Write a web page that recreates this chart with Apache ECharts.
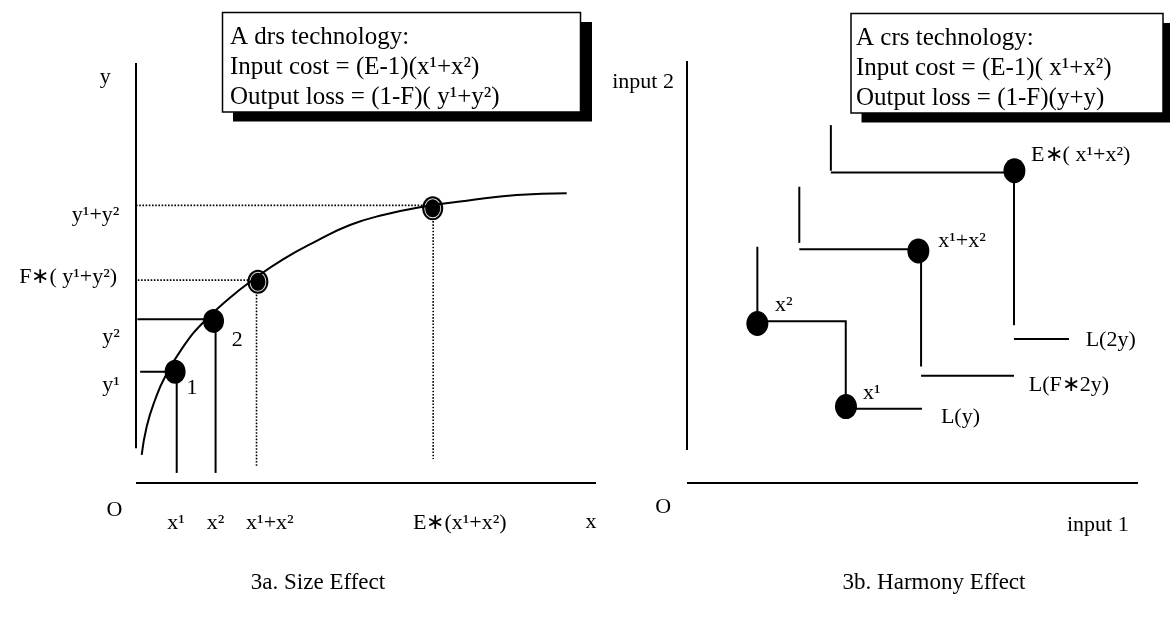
<!DOCTYPE html>
<html><head><meta charset="utf-8">
<script src="https://cdn.jsdelivr.net/npm/echarts@6/dist/echarts.min.js"></script>
<style>html,body{margin:0;padding:0;background:#fff}#c{width:1170px;height:617px}</style>
</head><body><div id="c"></div>
<script>
// ---------- Panel 3a (size effect), data units 0..100 ----------
const curvePts = [[1.24,6.67],[2.33,13.45],[4.13,19.76],[6.30,25.24],[10.43,32.71],[14.78,38.43],[20.43,44.12],[25.50,48.45],[31.96,53.26],[39.28,57.67],[46.52,61.43],[53.70,63.81],[62.39,65.79],[71.89,67.21],[82.76,68.57],[93.63,68.98]];
const leftAxes = [[[0,8.3],[0,100]], [[0,0],[100,0]]];
const leftSolid = [[[0.9,26.5],[8.5,26.5]], [[0.3,39.0],[16.9,39.0]], [[8.85,26.5],[8.85,2.4]], [[17.3,38.6],[17.3,2.4]]];
const leftDotted = [[[0.4,48.3],[26.5,48.3]], [[0,66.1],[64.5,66.1]], [[26.2,47.9],[26.2,3.8]], [[64.6,65.4],[64.6,5.7]]];
const leftDots = [[8.5,26.5],[16.85,38.6]];
const leftRingDots = [[26.5,47.9],[64.5,65.4]];
const leftLabelText = ['y','y¹+y²','F∗( y¹+y²)','y²','y¹','1','2','O','x¹','x²','x¹+x²','E∗(x¹+x²)','x'];
const leftLabelAt = [[-6.7,96.7],[-3.6,63.8],[-4.1,49.0],[-3.5,34.8],[-3.5,23.3],[12.2,22.6],[22.0,34.0],[-4.7,-6.4],[8.7,-9.5],[17.3,-9.5],[29.1,-9.5],[70.4,-9.5],[98.9,-9.3]];
const leftLabelAlign = ['center','right','right','right','right','center','center','center','center','center','center','center','center'];

// ---------- Panel 3b (harmony effect), data units 0..100 ----------
const rightAxes = [[[0,7.8],[0,100]], [[0,0],[100,0]]];
const isoY = [[[15.6,56.0],[15.6,38.3],[35.2,38.3],[35.2,17.6],[52.1,17.6]]];
const isoF2y = [[[24.9,70.2],[24.9,56.9]], [[24.9,55.4],[51.6,55.4]], [[51.9,55.0],[51.9,27.6]], [[51.9,25.4],[72.5,25.4]]];
const iso2y = [[[31.9,84.8],[31.9,74.0]], [[31.9,73.6],[72.6,73.6]], [[72.5,73.9],[72.5,37.4]], [[72.5,34.1],[84.7,34.1]]];
const rightDots = [[15.6,37.8],[35.25,18.1],[51.3,55.0],[72.6,74.0]];
const rightLabelText = ['input 2','O','input 1','E∗( x¹+x²)','x¹+x²','x²','x¹','L(y)','L(F∗2y)','L(2y)'];
const rightLabelAt = [[-2.9,95.0],[-5.3,-5.7],[91.1,-10.0],[76.3,77.7],[55.7,57.3],[19.5,42.2],[39.0,21.3],[56.3,15.6],[75.8,23.2],[88.4,33.9]];
const rightLabelAlign = ['right','center','center','left','left','left','left','left','left','left'];

const boxLeftLines = ['A drs technology:','Input cost = (E-1)(x¹+x²)','Output loss = (1-F)( y¹+y²)'];
const boxRightLines = ['A crs technology:','Input cost = (E-1)( x¹+x²)','Output loss = (1-F)(y+y)'];
const captions = ['3a. Size Effect','3b. Harmony Effect'];

const FONT = "'Liberation Serif','Times New Roman',serif";
const chart = echarts.init(document.getElementById('c'), null, {renderer:'canvas'});

function segs(list, gi, style){
  return {type:'lines', coordinateSystem:'cartesian2d', xAxisIndex:gi, yAxisIndex:gi, polyline:true, silent:true, clip:false,
    lineStyle:Object.assign({color:'#000', width:2, opacity:1}, style||{}),
    data:list.map(c=>({coords:c}))};
}
function labels(texts, at, aligns, gi, size){
  return {type:'scatter', xAxisIndex:gi, yAxisIndex:gi, symbolSize:0, silent:true, clip:false,
    itemStyle:{opacity:1},
    data: at.map((p,i)=>({value:p, label:{formatter:texts[i], align:aligns[i]}})),
    label:{show:true, position:'inside', color:'#000', opacity:1, fontFamily:FONT, fontSize:size, verticalAlign:'middle'}};
}
function dots(pts, gi, size, ring){
  const s = [{type:'scatter', xAxisIndex:gi, yAxisIndex:gi, symbol:'circle', symbolSize:size, silent:true, clip:false,
    itemStyle:{color:'#000', opacity:1}, data:pts}];
  if (ring) s.push({type:'scatter', xAxisIndex:gi, yAxisIndex:gi, symbol:'circle', symbolSize:[size[0]-5,size[1]-5], silent:true, clip:false,
    itemStyle:{color:'#000', borderColor:'#ddd', borderWidth:1, opacity:1}, data:pts});
  return s;
}
function box(x,y,w,h,lines,tx,ty0){
  const els = [
    {type:'rect', shape:{x:x+10.5,y:y+9.5,width:w+1,height:h}, style:{fill:'#000'}},
    {type:'rect', shape:{x:x,y:y,width:w,height:h}, style:{fill:'#fff', stroke:'#000', lineWidth:1.5}}
  ];
  lines.forEach((t,i)=>els.push({type:'text', style:{text:t, x:tx, y:ty0+i*30, fill:'#000', fontSize:25, fontFamily:FONT, align:'left', verticalAlign:'middle'}}));
  return els;
}
const ax = (gi)=>({type:'value', gridIndex:gi, min:0, max:100, show:false});

chart.setOption({
  animation:false,
  backgroundColor:'#fff',
  grid:[{left:136, top:63, width:460, height:420}, {left:687, top:61, width:451, height:422}],
  xAxis:[ax(0), ax(1)],
  yAxis:[ax(0), ax(1)],
  graphic: [
    ...box(222.5,12.5,358,99.5,boxLeftLines,230,37),
    ...box(851,13.5,312,99.5,boxRightLines,856,38),
    {type:'text', style:{text:captions[0], x:318, y:583, fill:'#000', fontSize:23, fontFamily:FONT, align:'center', verticalAlign:'middle'}},
    {type:'text', style:{text:captions[1], x:934, y:583, fill:'#000', fontSize:23, fontFamily:FONT, align:'center', verticalAlign:'middle'}}
  ],
  series:[
    segs(leftAxes,0),
    {type:'line', xAxisIndex:0, yAxisIndex:0, data:curvePts, smooth:0.5, showSymbol:false, silent:true, clip:false,
      lineStyle:{color:'#000', width:2}},
    segs(leftSolid,0),
    segs(leftDotted,0,{type:'dotted', width:1.6}),
    ...dots(leftDots,0,[21,24],false),
    ...dots(leftRingDots,0,[21,24],true),
    labels(leftLabelText,leftLabelAt,leftLabelAlign,0,22),
    segs(rightAxes,1),
    segs(isoY,1),
    segs(isoF2y,1),
    segs(iso2y,1),
    ...dots(rightDots,1,[22,25],false),
    labels(rightLabelText,rightLabelAt,rightLabelAlign,1,22)
  ]
});
</script></body></html>
